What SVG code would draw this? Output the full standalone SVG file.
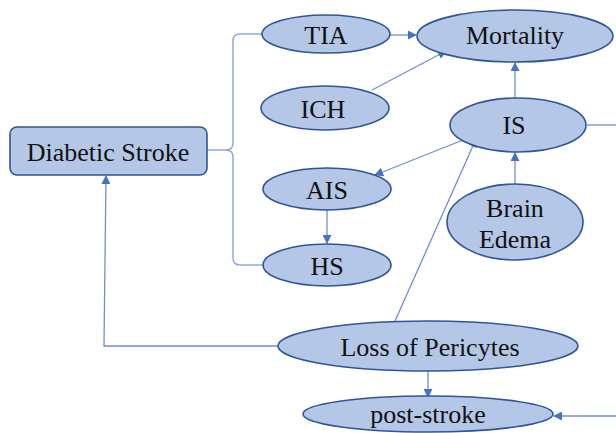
<svg xmlns="http://www.w3.org/2000/svg" width="616" height="433" viewBox="0 0 616 433">
<defs>
<marker id="ah" viewBox="0 0 10 10" refX="9" refY="5" markerWidth="9" markerHeight="9" markerUnits="userSpaceOnUse" orient="auto">
<path d="M0,0 L10,5 L0,10 z" fill="#4472c4"/>
</marker>
</defs>
<rect width="616" height="433" fill="#fff"/>
<g id="connectors" fill="none" stroke="#6f8fcf" stroke-width="1.3">
<path stroke="#8eaadb" stroke-width="1.5" d="M207,150 L226,150 Q233,150 233,143 L233,41 Q233,34 240,34 L262,34"/>
<path stroke="#8eaadb" stroke-width="1.5" d="M226,150 Q233,150 233,157 L233,258 Q233,265 240,265 L263,265"/>
<path marker-end="url(#ah)" d="M390,35 L416,35"/>
<path marker-end="url(#ah)" d="M372,90 L446,51"/>
<path marker-end="url(#ah)" d="M515,98 L515,63"/>
<path marker-end="url(#ah)" d="M468,138 L375,175"/>
<path marker-end="url(#ah)" d="M515,185 L515,153"/>
<path marker-end="url(#ah)" d="M395,321 L476,139"/>
<path marker-end="url(#ah)" d="M327,210 L327,243"/>
<path marker-end="url(#ah)" d="M278,346 L104,346 L106,176"/>
<path marker-end="url(#ah)" d="M428,371 L428,397"/>
<path d="M587,125 L616,125"/>
<path marker-end="url(#ah)" d="M616,416 L554,416"/>
</g>
<g id="nodes" fill="#b4c7e7" stroke="#2f5597" stroke-width="1.6">
<g id="diabetic-stroke"><rect x="10" y="127" width="197" height="48" rx="7"/><text x="108" y="161" font-family="Liberation Serif" font-size="26" text-anchor="middle" fill="#111" stroke="none">Diabetic Stroke</text></g>
<g id="tia"><ellipse cx="326" cy="34" rx="64" ry="19"/><text x="326" y="44" font-family="Liberation Serif" font-size="26" text-anchor="middle" fill="#111" stroke="none">TIA</text></g>
<g id="mortality"><ellipse cx="515" cy="36" rx="98" ry="26"/><text x="515" y="44" font-family="Liberation Serif" font-size="26" text-anchor="middle" fill="#111" stroke="none">Mortality</text></g>
<g id="ich"><ellipse cx="325" cy="108" rx="64" ry="22"/><text x="323" y="118" font-family="Liberation Serif" font-size="26" text-anchor="middle" fill="#111" stroke="none">ICH</text></g>
<g id="is"><ellipse cx="518" cy="125" rx="68" ry="27"/><text x="514" y="134" font-family="Liberation Serif" font-size="26" text-anchor="middle" fill="#111" stroke="none">IS</text></g>
<g id="ais"><ellipse cx="327" cy="189" rx="64" ry="21"/><text x="327" y="199" font-family="Liberation Serif" font-size="26" text-anchor="middle" fill="#111" stroke="none">AIS</text></g>
<g id="brain-edema"><ellipse cx="515" cy="222" rx="68" ry="38"/><text x="515" y="217" font-family="Liberation Serif" font-size="26" text-anchor="middle" fill="#111" stroke="none">Brain</text><text x="515" y="248" font-family="Liberation Serif" font-size="26" text-anchor="middle" fill="#111" stroke="none">Edema</text></g>
<g id="hs"><ellipse cx="327" cy="265" rx="64" ry="21"/><text x="327" y="275" font-family="Liberation Serif" font-size="26" text-anchor="middle" fill="#111" stroke="none">HS</text></g>
<g id="loss-of-pericytes"><ellipse cx="428" cy="346" rx="150" ry="25"/><text x="430" y="356" font-family="Liberation Serif" font-size="26" text-anchor="middle" fill="#111" stroke="none">Loss of Pericytes</text></g>
<g id="post-stroke"><ellipse cx="428" cy="414" rx="125" ry="18"/><text x="428" y="423" font-family="Liberation Serif" font-size="26" text-anchor="middle" fill="#111" stroke="none">post-stroke</text></g>
</g>
</svg>
